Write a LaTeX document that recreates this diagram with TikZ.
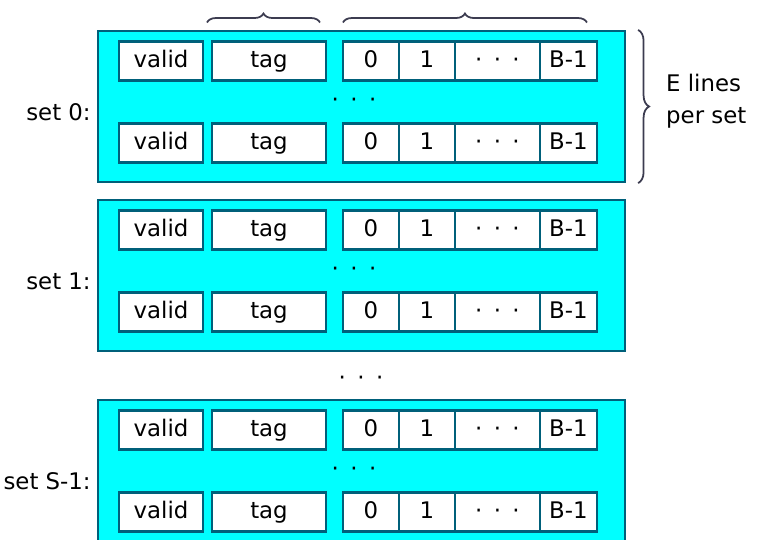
\documentclass[tikz,border=0pt]{standalone}
\usepackage{fontspec}
\setmainfont{DejaVu Sans}
\usetikzlibrary{positioning,decorations.pathreplacing}
\definecolor{CacheCyan}{RGB}{0,255,255}
\definecolor{CacheTeal}{RGB}{0,96,122}
\definecolor{BraceGray}{RGB}{60,60,80}
\newcommand{\dotsrow}{·\hspace{0.5em}·\hspace{0.5em}·}

\begin{document}
\begin{tikzpicture}[x=0.02cm, y=-0.02cm,
    setbox/.style={rectangle, draw=CacheTeal, line width=1.3pt, fill=CacheCyan, minimum width=10.54cm, minimum height=3.02cm, inner sep=0pt},
    cell/.style={rectangle, draw=CacheTeal, line width=1.3pt, fill=white, minimum height=0.78cm, inner sep=0pt, outer sep=0pt, text height=9.6pt, text depth=2.6pt, font=\fontsize{13}{15}\selectfont},
    setlabel/.style={anchor=east, font=\fontsize{13}{15}\selectfont},
    brace/.style={decorate, decoration={brace, amplitude=0.18cm}, draw=BraceGray, line width=1pt}
  ]
    \useasboundingbox (0,0) rectangle (768,539);
    \clip (0,0) rectangle (768,539);

    % one cyan box per set, two cache lines in each
    \foreach \s/\top/\lab in {0/31/set 0:, 1/200/set 1:, 2/400/set S-1:} {
      \node[setbox] (set\s) at (361.5,\top+75.5) {};
      \node[setlabel, yshift=-0.12cm] (lab\s) at (set\s.west) {\lab};
      \node[font=\fontsize{13}{15}\selectfont] (dots\s) at (354,\top+72) {\dotsrow};
      \foreach \r/\dy in {1/30, 2/112} {
        \node[cell, minimum width=1.68cm] (v\s\r) at (161,\top+\dy) {valid};
        \node[cell, minimum width=2.28cm, right=0.18cm of v\s\r] (t\s\r) {tag};
        \node[cell, minimum width=1.12cm, right=0.34cm of t\s\r] (d\s\r) {0};
        \node[cell, minimum width=1.12cm, right=0pt of d\s\r] (e\s\r) {1};
        \node[cell, minimum width=1.7cm, right=0pt of e\s\r] (m\s\r) {\dotsrow};
        \node[cell, minimum width=1.14cm, right=0pt of m\s\r] (b\s\r) {B-1};
      }
    }

    \node[font=\fontsize{13}{15}\selectfont] (gapdots) at (361,381) {\dotsrow};

    % braces
    \draw[brace] ([xshift=-0.1cm, yshift=0.38cm]t01.north west) -- ([xshift=-0.12cm, yshift=0.38cm]t01.north east);
    \draw[brace] ([yshift=0.38cm]d01.north west) -- ([xshift=-0.2cm, yshift=0.38cm]b01.north east);
    \draw[brace, decoration={amplitude=0.22cm}] ([xshift=0.24cm]set0.north east) -- ([xshift=0.24cm]set0.south east);
    \node[anchor=west, align=left, font=\fontsize{13}{18}\selectfont] (elines) at (660,101) {E lines\\per set};
\end{tikzpicture}
\end{document}
